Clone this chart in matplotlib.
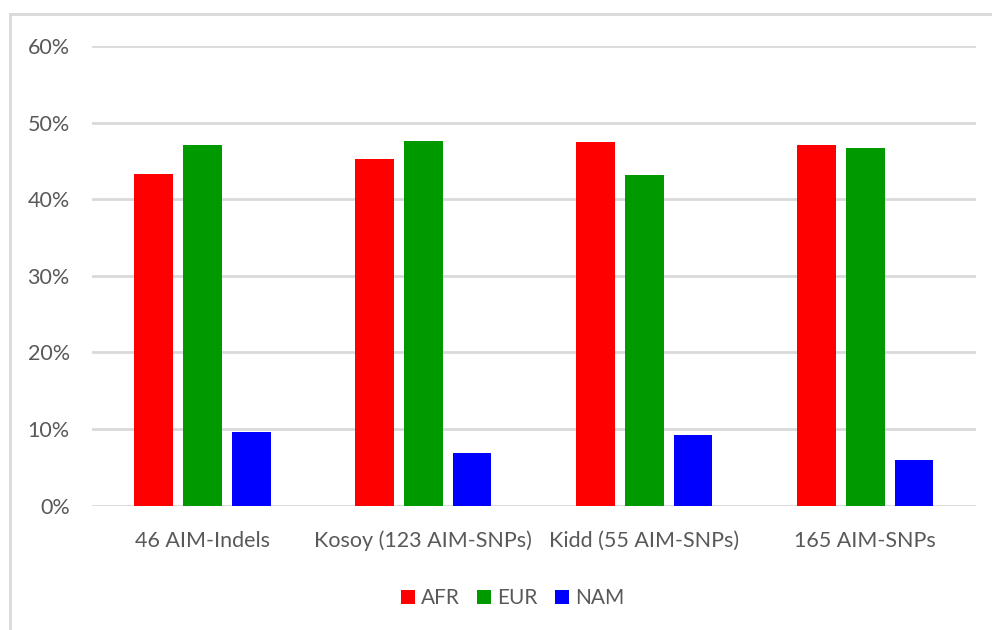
import matplotlib
matplotlib.use("Agg")
import matplotlib.pyplot as plt
import numpy as np
from matplotlib.lines import Line2D
from matplotlib.ticker import FuncFormatter, MultipleLocator

categories = ["46 AIM-Indels", "Kosoy (123 AIM-SNPs)", "Kidd (55 AIM-SNPs)", "165 AIM-SNPs"]
afr = [0.433, 0.453, 0.474, 0.471]
eur = [0.471, 0.476, 0.432, 0.467]
nam = [0.096, 0.068, 0.092, 0.059]
series_names = ["AFR", "EUR", "NAM"]
series_colors = ["#ff0000", "#009900", "#0000ff"]

text_color = "#595959"
grid_color = "#d9d9d9"
plt.rcParams['font.family'] = ['Lato', 'DejaVu Sans']

fig = plt.figure(figsize=(9.92, 6.3), dpi=100)
ax = fig.add_axes([0.0927, 0.1976, 0.891, 0.7294])

x = np.arange(len(categories))
width = 0.176
step = 0.22
for i, (vals, name, col) in enumerate(zip([afr, eur, nam], series_names, series_colors)):
    ax.bar(x + (i - 1) * step, vals, width, color=col, label=name, zorder=3)

ax.set_xlim(-0.5, len(categories) - 0.5)
ax.set_ylim(0, 0.6)
ax.yaxis.set_major_locator(MultipleLocator(0.1))
ax.yaxis.set_major_formatter(FuncFormatter(lambda v, p: f"{v * 100:.0f}%"))
ax.grid(axis="y", color=grid_color, linewidth=2, zorder=0)
ax.set_xticks(x)
ax.set_xticklabels(categories)
ax.tick_params(axis="both", length=0, labelsize=15.5, colors=text_color)
ax.tick_params(axis="x", pad=18)
ax.tick_params(axis="y", pad=16)
for s in ax.spines.values():
    s.set_visible(False)

leg = ax.legend(loc="center", bbox_to_anchor=(0.476, -0.202), ncol=3, frameon=False,
                fontsize=15, handlelength=0.65, handleheight=0.65,
                handletextpad=0.3, columnspacing=0.85)
for t in leg.get_texts():
    t.set_color(text_color)

# chart area border (top and left edges)
fig.add_artist(Line2D([10 / 992, 1], [1 - 14 / 630, 1 - 14 / 630], color=grid_color, linewidth=2))
fig.add_artist(Line2D([10 / 992, 10 / 992], [0, 1 - 14 / 630], color=grid_color, linewidth=2))

fig.savefig("out.png", dpi=100)
